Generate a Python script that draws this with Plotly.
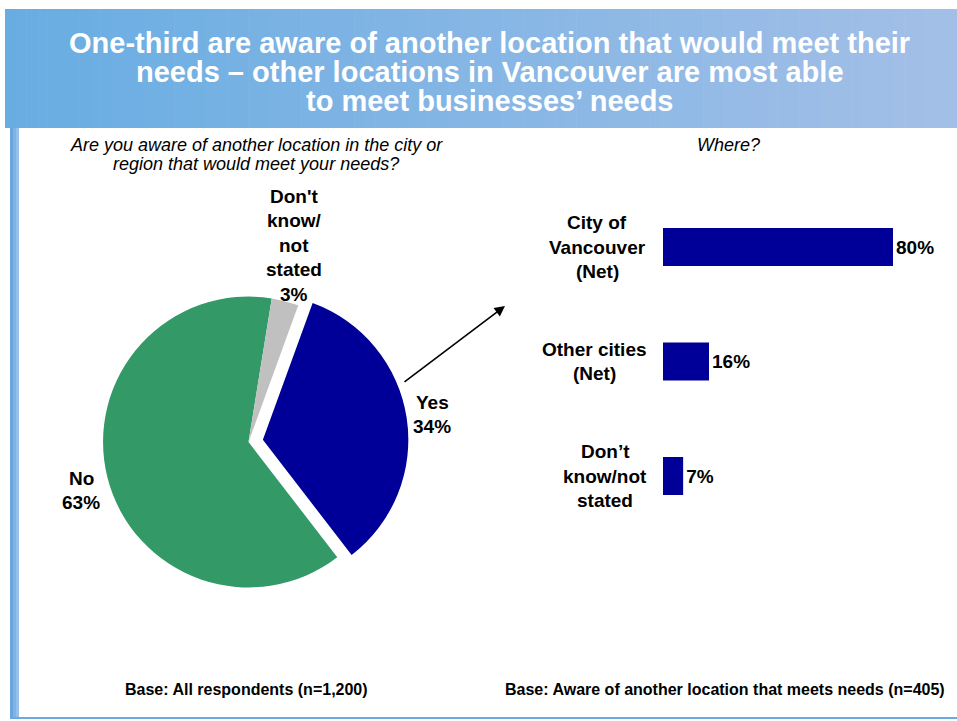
import plotly.graph_objects as go

# ---- data ----
pie_labels = ["Yes", "No", "Don't know/not stated"]
pie_values = [34, 63, 3]
pie_label_lines = [["Yes"], ["No"], ["Don't", "know/", "not", "stated"]]

bar_categories = ["City of Vancouver (Net)", "Other cities (Net)", "Don’t know/not stated"]
bar_values = [80, 16, 7]
bar_label_lines = [["City of", "Vancouver", "(Net)"], ["Other cities", "(Net)"], ["Don’t", "know/not", "stated"]]

title_lines = [
    "One-third are aware of another location that would meet their",
    "needs – other locations in Vancouver are most able",
    "to meet businesses’ needs",
]
left_question_lines = ["Are you aware of another location in the city or",
                       "region that would meet your needs?"]
right_question = "Where?"
left_base = "Base: All respondents (n=1,200)"
right_base = "Base: Aware of another location that meets needs (n=405)"

# ---- styling ----
W, H = 957, 721
FONT = "Liberation Sans, Arial, sans-serif"
NAVY = "#000099"
GREEN = "#339966"
GREY = "#c0c0c0"
LABEL_SIZE = 19

# pixel positions of the pie labels (centre x, first-line y) and label block centres
pie_label_pos = [(432, 402), (81, 478), (294, 196)]
bar_label_cx = [597, 594, 605]
LINE_STEP = 24.5


def px(x):
    return x / W


def py(y):
    return 1 - y / H


fig = go.Figure()

fig.add_trace(go.Pie(
    labels=pie_labels,
    values=pie_values,
    sort=False,
    direction="clockwise",
    rotation=20,
    pull=[0.1, 0, 0],
    marker=dict(colors=[NAVY, GREEN, GREY], line=dict(width=0)),
    textinfo="none",
    hoverinfo="label+percent",
    showlegend=False,
    domain=dict(x=[px(88.5), px(408.5)], y=[py(602), py(282)]),
))

fig.add_trace(go.Bar(
    x=bar_values,
    y=bar_categories,
    orientation="h",
    marker=dict(color=NAVY, line=dict(width=0)),
    text=[f"{v}%" for v in bar_values],
    textposition="outside",
    textfont=dict(family=FONT, size=LABEL_SIZE, color="black", weight="bold"),
    cliponaxis=False,
    showlegend=False,
    xaxis="x",
    yaxis="y",
))

shapes = []
# header band with a left-to-right gradient
c0 = (0x68, 0xAD, 0xE2)
c1 = (0xA3, 0xBF, 0xE7)
n = 90
x_start, x_end = 5, 957
for i in range(n):
    t = i / (n - 1)
    col = "rgb(%d,%d,%d)" % tuple(round(a + (b - a) * t) for a, b in zip(c0, c1))
    xa = x_start + (x_end - x_start) * i / n
    xb = x_start + (x_end - x_start) * (i + 1) / n + 0.6
    shapes.append(dict(type="rect", xref="paper", yref="paper",
                       x0=px(xa), x1=px(min(xb, W)), y0=py(128), y1=py(9),
                       fillcolor=col, line=dict(width=0), layer="below"))
# left frame strip
strip_cols = ["#6aa6de", "#7fb3e6", "#95c0ec"]
for i, col in enumerate(strip_cols):
    shapes.append(dict(type="rect", xref="paper", yref="paper",
                       x0=px(10 + 3 * i), x1=px(13 + 3 * i), y0=py(718), y1=py(128),
                       fillcolor=col, line=dict(width=0), layer="below"))
# bottom frame line
shapes.append(dict(type="line", xref="paper", yref="paper",
                   x0=px(10), x1=px(957), y0=py(718), y1=py(718),
                   line=dict(color="#6aaae0", width=2)))

annotations = []
# title
for i, line in enumerate(title_lines):
    annotations.append(dict(text=line, xref="paper", yref="paper",
                            x=px(490), y=py(43 + 29 * i), xanchor="center", yanchor="middle",
                            showarrow=False,
                            font=dict(family=FONT, size=29, color="white", weight="bold")))
# questions
for i, line in enumerate(left_question_lines):
    annotations.append(dict(text=line, xref="paper", yref="paper",
                            x=px(256), y=py(145 + 19 * i), xanchor="center", yanchor="middle",
                            showarrow=False,
                            font=dict(family=FONT, size=18, color="black", style="italic")))
annotations.append(dict(text=right_question, xref="paper", yref="paper",
                        x=px(728), y=py(145), xanchor="center", yanchor="middle",
                        showarrow=False,
                        font=dict(family=FONT, size=18, color="black", style="italic")))
# base notes
annotations.append(dict(text=left_base, xref="paper", yref="paper",
                        x=px(247), y=py(689), xanchor="center", yanchor="middle",
                        showarrow=False,
                        font=dict(family=FONT, size=16, color="black", weight="bold")))
annotations.append(dict(text=right_base, xref="paper", yref="paper",
                        x=px(725), y=py(689), xanchor="center", yanchor="middle",
                        showarrow=False,
                        font=dict(family=FONT, size=16, color="black", weight="bold")))

# pie labels: name lines then value
for lines, val, (cx, y0) in zip(pie_label_lines, pie_values, pie_label_pos):
    for j, line in enumerate(lines + [f"{val}%"]):
        annotations.append(dict(text=line, xref="paper", yref="paper",
                                x=px(cx), y=py(y0 + LINE_STEP * j),
                                xanchor="center", yanchor="middle", showarrow=False,
                                font=dict(family=FONT, size=LABEL_SIZE, color="black", weight="bold")))

# bar category labels, centred on each bar
for cat, lines, cx in zip(bar_categories, bar_label_lines, bar_label_cx):
    k = len(lines)
    for j, line in enumerate(lines):
        annotations.append(dict(text=line, xref="paper", yref="y",
                                x=px(cx), y=cat,
                                yshift=-(j - (k - 1) / 2) * LINE_STEP,
                                xanchor="center", yanchor="middle", showarrow=False,
                                font=dict(family=FONT, size=LABEL_SIZE, color="black", weight="bold")))

# arrow from the pie to the bar chart
annotations.append(dict(text="", xref="paper", yref="paper",
                        x=px(505), y=py(306), ax=403 - 505, ay=383 - 306,
                        axref="pixel", ayref="pixel", showarrow=True,
                        arrowhead=2, arrowsize=1.3, arrowwidth=1.6, arrowcolor="black"))

fig.update_layout(
    width=W, height=H,
    margin=dict(l=0, r=0, t=0, b=0),
    paper_bgcolor="white",
    plot_bgcolor="rgba(0,0,0,0)",
    font=dict(family=FONT),
    bargap=0.668,
    xaxis=dict(domain=[px(663), px(950.5)], range=[0, 100], visible=False, fixedrange=True),
    yaxis=dict(domain=[py(533.25), py(189.75)], autorange="reversed", visible=False,
               categoryorder="array", categoryarray=bar_categories, fixedrange=True),
    shapes=shapes,
    annotations=annotations,
)

fig.write_html("out.html")
